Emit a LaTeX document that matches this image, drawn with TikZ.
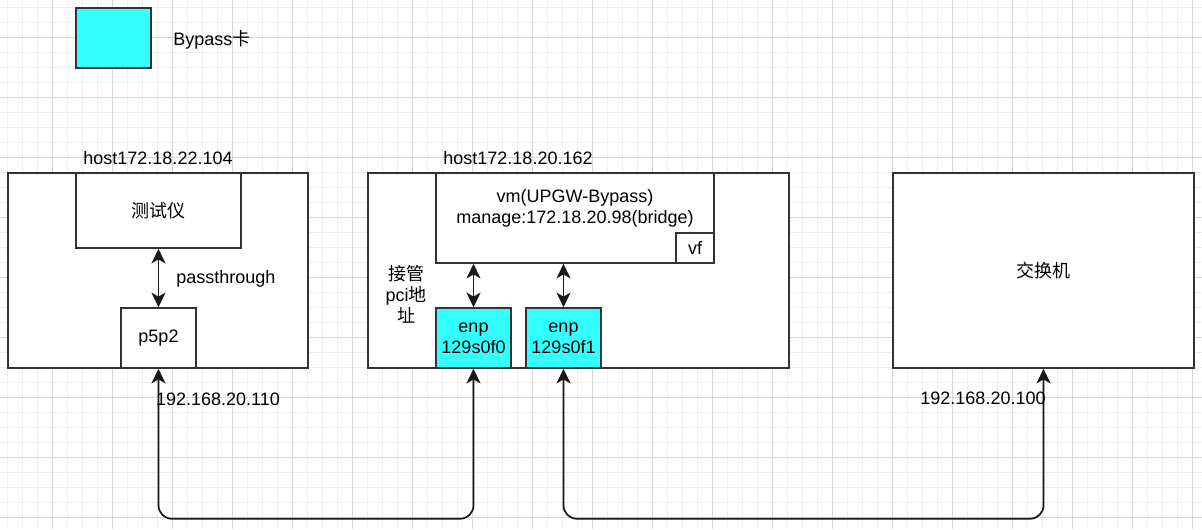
\documentclass[tikz,border=0pt]{standalone}
\usepackage{fontspec}
\setmainfont{Liberation Sans}
\newfontfamily\cjk{Noto Sans CJK SC}
\usetikzlibrary{arrows.meta}
\definecolor{cardcyan}{HTML}{33FFFF}
\definecolor{edge}{HTML}{333333}
\definecolor{gridminor}{HTML}{EEEEEE}
\definecolor{gridmajor}{HTML}{D6D6D6}
\tikzset{
  txt/.style={font=\fontsize{13.5}{15.75}\selectfont, text=black, inner sep=0pt, align=center},
  box/.style={draw=edge, line width=1.125pt, fill=white, inner sep=0pt, txt},
  cardbox/.style={box, fill=cardcyan},
  conn/.style={draw=black!90, line width=1.3pt,
    {Stealth[length=11pt,width=10.5pt,inset=3pt]}-{Stealth[length=11pt,width=10.5pt,inset=3pt]}},
}
\begin{document}
\begin{tikzpicture}[x=0.75pt,y=-0.75pt]
\useasboundingbox[fill=white] (0,0) rectangle (1202,529);
% grid
\foreach \g in {7,22,...,1202} \draw[gridminor, line width=0.75pt] (\g,0) -- (\g,529);
\foreach \g in {7,22,...,529} \draw[gridminor, line width=0.75pt] (0,\g) -- (1202,\g);
\foreach \g in {52,112,...,1202} \draw[gridmajor, line width=0.75pt] (\g,0) -- (\g,529);
\foreach \g in {37,97,...,529} \draw[gridmajor, line width=0.75pt] (0,\g) -- (1202,\g);

% legend
\node[cardbox, minimum width=56.25pt, minimum height=45pt] (legend) at (113.5,38) {};
\node[txt, anchor=west] (legendtxt) at (173,40) {Bypass{\cjk 卡}};

% host 1
\node[box, minimum width=225pt, minimum height=146.25pt] (host1) at (158,270.5) {};
\node[txt] (host1lbl) at (158,158) {host172.18.22.104};
\node[box, minimum width=123.75pt, minimum height=56.25pt] (tester) at (158.5,210.5) {{\cjk 测试仪}};
\node[box, minimum width=56.25pt, minimum height=45pt] (p5p2) at (158.5,338) {p5p2};
\node[txt, anchor=west] (passlbl) at (176,279) {passthrough};

% host 2
\node[box, minimum width=315.75pt, minimum height=146.25pt] (host2) at (578.5,270.5) {};
\node[txt] (host2lbl) at (518,158) {host172.18.20.162};
\node[box, minimum width=208.5pt, minimum height=67.5pt] (vm) at (575,218) {};
\node[txt] (vmlbl) at (575,208) {vm(UPGW-Bypass)\\manage:172.18.20.98(bridge)};
\node[box, minimum width=28.5pt, minimum height=22.5pt] (vf) at (695,248) {vf};
\node[txt] (pcilbl) at (406,294) {{\cjk 接管}\\pci{\cjk 地}\\{\cjk 址}};
\node[cardbox, minimum width=56.25pt, minimum height=45pt] (enp0) at (473.5,338) {enp\\129s0f0};
\node[cardbox, minimum width=56.25pt, minimum height=45pt] (enp1) at (563.5,338) {enp\\129s0f1};

% switch
\node[box, minimum width=225.75pt, minimum height=146.25pt] (switch) at (1043.5,270.5) {{\cjk 交换机}};

% connectors
\draw[conn] (tester.south) -- (p5p2.north);
\draw[conn] (vm.south -| enp0.north) -- (enp0.north);
\draw[conn] (vm.south -| enp1.north) -- (enp1.north);
\draw[conn, rounded corners=10pt] (p5p2.south) -- ++(0,150) -| (enp0.south);
\draw[conn, rounded corners=10pt] (enp1.south) -- ++(0,150) -| (switch.south);

% address labels
\node[txt] (ip110) at (218,399) {192.168.20.110};
\node[txt] (ip100) at (983,398) {192.168.20.100};
\end{tikzpicture}
\end{document}
